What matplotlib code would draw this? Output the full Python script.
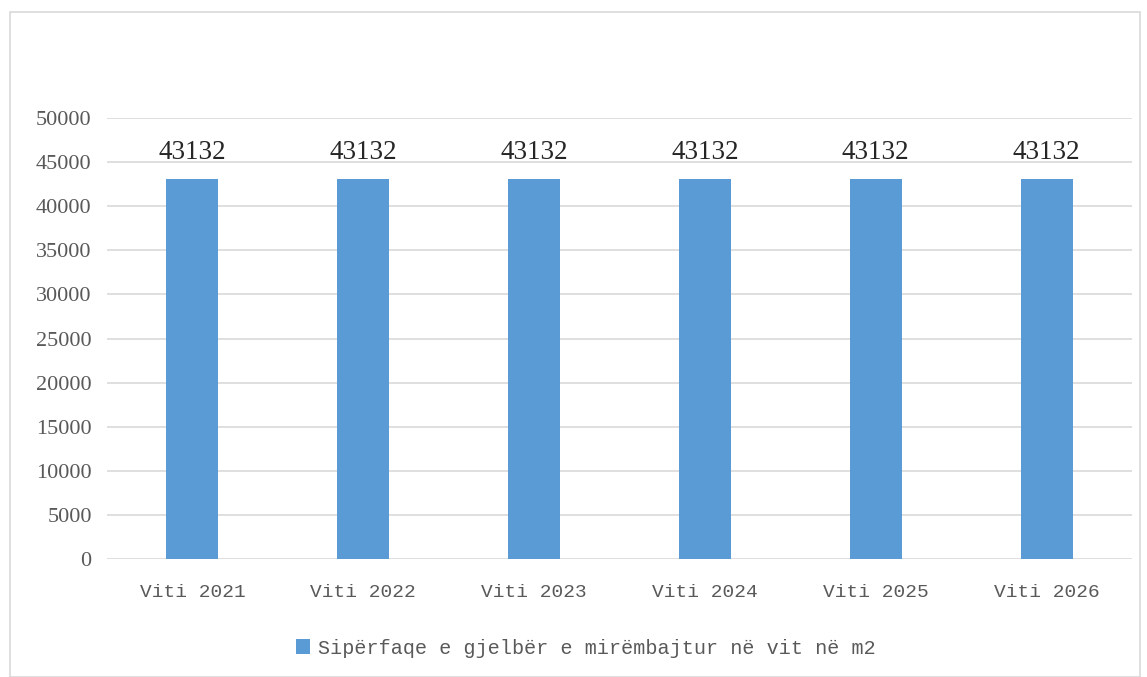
import matplotlib
matplotlib.use("Agg")
import matplotlib.pyplot as plt
from matplotlib.patches import Rectangle

# ── 数据 ──
categories = ["Viti 2021", "Viti 2022", "Viti 2023", "Viti 2024", "Viti 2025", "Viti 2026"]
values = [43132, 43132, 43132, 43132, 43132, 43132]
series_name = "Sipërfaqe e gjelbër e mirëmbajtur në vit në m2"
yticks = [0, 5000, 10000, 15000, 20000, 25000, 30000, 35000, 40000, 45000, 50000]

BAR = "#5B9BD5"
TXT = "#595959"
GRID = "#D9D9D9"
MONO = ["Liberation Mono", "DejaVu Sans Mono"]
SERIF = ["Liberation Serif", "DejaVu Serif"]

fig = plt.figure(figsize=(11.47, 6.77), dpi=100)
ax = fig.add_axes([107 / 1147, 1 - 559 / 677, 1025 / 1147, 441 / 677])

x = list(range(len(categories)))
bars = ax.bar(x, values, width=0.305, color=BAR, label=series_name, zorder=3)

for xi, v in zip(x, values):
    ax.annotate(str(v), (xi, v), xytext=(0, 10), textcoords="offset points",
                ha="center", va="bottom", fontsize=19.5, color="#262626",
                family=SERIF)

ax.set_xlim(-0.5, len(categories) - 0.5)
ax.set_ylim(0, 50000)
ax.set_yticks(yticks)
ax.set_yticklabels([str(t) for t in yticks], family=SERIF, fontsize=16, color=TXT)
ax.set_xticks(x)
ax.set_xticklabels(categories, family=MONO, fontsize=14, color=TXT)
ax.tick_params(axis="both", length=0)
ax.tick_params(axis="y", pad=11)
ax.tick_params(axis="x", pad=18)
ax.grid(axis="y", color=GRID, linewidth=1.2, zorder=0)
for s in ax.spines.values():
    s.set_visible(False)

leg = fig.legend(handles=[bars], labels=[series_name], loc="center",
                 bbox_to_anchor=(0.5 + 12 / 1147, 1 - 648 / 677), frameon=False,
                 prop={"family": MONO, "size": 14.5}, handlelength=0.7,
                 handleheight=0.7, handletextpad=0.4)
for t in leg.get_texts():
    t.set_color(TXT)

# 外框
fig.patches.append(Rectangle((10 / 1147, 0), 1130 / 1147, 1 - 12 / 677,
                             transform=fig.transFigure, fill=False,
                             edgecolor="#D9D9D9", linewidth=1.2))

fig.savefig("out.png", dpi=100)
